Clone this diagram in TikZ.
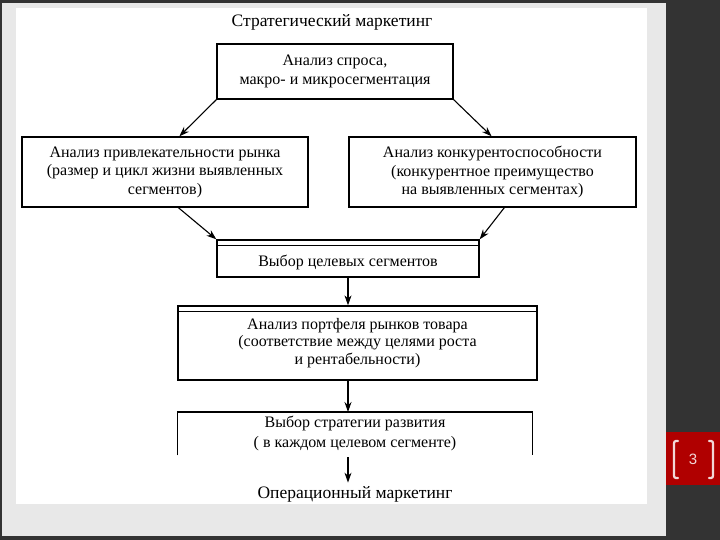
\documentclass[tikz,border=0pt]{standalone}
\usepackage{fontspec}
\setmainfont{Liberation Serif}
\newfontfamily\numfont{Liberation Sans}
\usetikzlibrary{arrows.meta,calc}
\definecolor{darkbg}{HTML}{333333}
\definecolor{panel}{HTML}{E8E8E8}
\definecolor{slidered}{HTML}{B00000}
\definecolor{numcol}{HTML}{F2D8D8}
\tikzset{
  box/.style={draw=black, line width=1.3pt, fill=white, align=center, inner sep=2pt,
              font=\fontsize{16}{18.5}\selectfont},
  openbox/.style={align=center, inner sep=2pt, font=\fontsize{16}{19.5}\selectfont},
  arr/.style={-{Stealth[length=10pt,width=7pt]}, line width=1.1pt},
  plain/.style={font=\fontsize{17.5}{20}\selectfont}
}
\begin{document}
\begin{tikzpicture}[x=1pt,y=-1pt]
\useasboundingbox (0,0) rectangle (720,540);
% background
\fill[darkbg] (0,0) rectangle (720,540);
\fill[panel] (2,3) rectangle (666,536);
\fill[white] (16,8) rectangle (647,504);
% slide number
\fill[slidered] (666,432) rectangle (720,485);
\draw[numcol, line width=2.2pt, line cap=round] (678,441) .. controls (674,441) .. (674,446) -- (674,473) .. controls (674,478) .. (678,478);
\draw[numcol, line width=2.2pt, line cap=round] (709,441) .. controls (713,441) .. (713,446) -- (713,473) .. controls (713,478) .. (709,478);
\node[numcol, font=\numfont\fontsize{15}{17}\selectfont] (num) at (693,459) {3};
% title
\node[plain] (title) at (332,22) {Стратегический маркетинг};
% boxes
\node[box, minimum width=236pt, minimum height=55pt] (b1) at (335,71.5) {Анализ спроса,\\макро- и микросегментация};
\node[box, minimum width=286pt, minimum height=70pt] (b2) at (165,172) {Анализ привлекательности рынка\\(размер и цикл жизни выявленных\\сегментов)};
\node[box, minimum width=287pt, minimum height=70pt] (b3) at (492.5,172) {Анализ конкурентоспособности\\(конкурентное преимущество\\на выявленных сегментах)};
\node[box, minimum width=262pt, minimum height=37pt, text depth=0pt] (b4) at (348,258.5) {\raisebox{-5pt}{Выбор целевых сегментов}};
\draw[line width=1.3pt] ([yshift=-6pt]b4.north west) -- ([yshift=-6pt]b4.north east);
\node[box, minimum width=359pt, minimum height=74pt, font=\fontsize{16}{17.5}\selectfont] (b5) at (357.5,343) {\raisebox{-2pt}{Анализ портфеля рынков товара}\\\raisebox{-2pt}{(соответствие между целями роста}\\\raisebox{-2pt}{и рентабельности)}};
\draw[line width=1.3pt] ([yshift=-6pt]b5.north west) -- ([yshift=-6pt]b5.north east);
\node[openbox, minimum width=354pt, minimum height=43pt, anchor=north] (b6) at (355,412) {\raisebox{-2pt}{Выбор стратегии развития}\\\raisebox{-2pt}{( в каждом целевом сегменте)}};
\draw[line width=1.3pt] (b6.south west) -- (b6.north west) -- (b6.north east) -- (b6.south east);
\node[plain] (op) at (355,494) {Операционный маркетинг};
% connectors
\draw[arr] (b1.south west) -- ([xshift=158pt]b2.north west);
\draw[arr] (b1.south east) -- ([xshift=-145pt]b3.north east);
\draw[arr] ([xshift=157pt]b2.south west) -- (b4.north west);
\draw[arr] ([xshift=156pt]b3.south west) -- (b4.north east);
\draw[arr] (b4.south) -- (b4.south |- b5.north);
\draw[arr] (b4.south |- b5.south) -- (b4.south |- b6.north);
\coordinate (c6) at ($(b4.south |- b6.south)+(0,2)$);
\draw[arr] (c6) -- (c6 |- op.north);
\end{tikzpicture}
\end{document}
